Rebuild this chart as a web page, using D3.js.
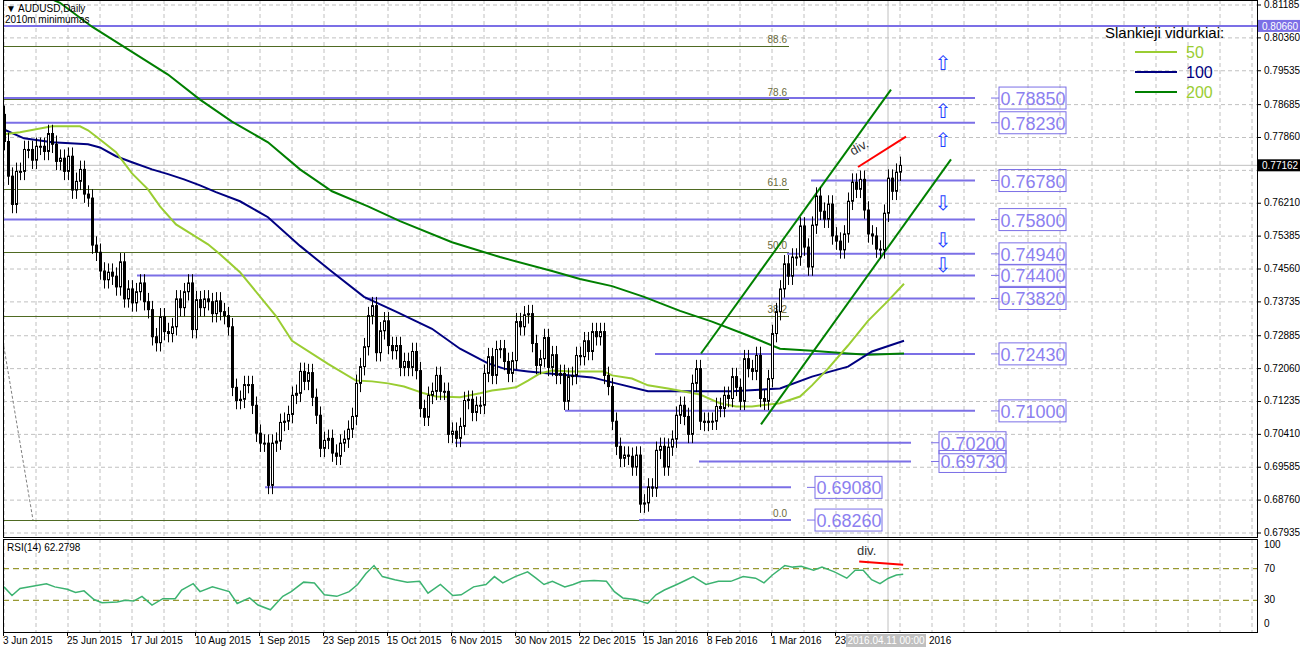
<!DOCTYPE html>
<html>
<head>
<meta charset="utf-8">
<script src="https://cdn.jsdelivr.net/npm/d3@7"></script>
<style>
  body { margin: 0; background: #fff; }
  svg { font-family: "Liberation Sans", Arial, sans-serif; }
</style>
</head>
<body>
<svg id="chart" width="1300" height="652"></svg>
<script>
// daily closes AUDUSD, 3 Jun 2015 .. 15 Apr 2016
var firstOpen = 0.7844;
var closes = [
  0.7776,0.7689,0.7618,0.7701,0.7701,0.7756,0.7756,0.7729,0.7764,0.7764,
  0.7751,0.7796,0.7769,0.7726,0.7734,0.7701,0.7739,0.7654,0.7676,0.7706,
  0.7644,0.7634,0.7516,0.7498,0.7451,0.7429,0.7448,0.7438,0.7411,0.7474,
  0.7381,0.7406,0.7371,0.7399,0.7421,0.7374,0.7354,0.7286,0.7271,0.7336,
  0.7299,0.7294,0.7311,0.7381,0.7359,0.7399,0.7421,0.7304,0.7379,0.7359,
  0.7381,0.7374,0.7344,0.7376,0.7349,0.7339,0.7311,
  0.7159,0.7126,0.7129,0.7166,0.7166,0.7114,0.7044,0.7019,0.7019,0.6913,
  0.7019,0.7024,0.7071,0.7074,0.7091,0.7139,0.7144,0.7199,0.7174,0.7196,
  0.7134,0.7089,0.7006,0.7026,0.7031,0.6994,0.6986,0.7019,0.7029,0.7054,
  0.7086,0.7169,0.7211,0.7261,0.7339,0.7364,0.7246,0.7301,0.7326,0.7264,
  0.7251,0.7264,0.7209,0.7224,0.7209,0.7249,0.7201,0.7106,0.7084,0.7139,
  0.7149,0.7189,0.7149,0.7149,0.7041,0.7049,0.7031,0.7061,0.7126,
  0.7129,0.7096,0.7114,0.7114,0.7194,0.7236,0.7189,0.7254,0.7256,0.7224,
  0.7194,0.7226,0.7324,0.7311,0.7341,0.7344,0.7269,0.7214,0.7231,0.7284,
  0.7209,0.7241,0.7189,0.7194,0.7124,0.7186,0.7189,0.7239,0.7236,0.7276,
  0.7249,0.7299,0.7286,0.7299,0.7189,0.7161,0.7074,0.7011,0.6981,0.6989,
  0.6986,0.6959,0.6989,0.6866,0.6869,0.6909,0.6906,0.7001,0.7011,0.6959,
  0.7009,0.7029,0.7089,0.7114,0.7086,0.7041,0.7169,0.7206,
  0.7074,0.7071,0.7074,0.7074,0.7111,0.7106,0.7139,0.7131,0.7186,0.7159,
  0.7124,0.7231,0.7206,0.7199,0.7239,0.7131,0.7124,0.7181,0.7294,0.7349,
  0.7406,0.7469,0.7438,0.7486,0.7486,0.7564,0.7511,0.7461,0.7566,0.7639,
  0.7601,0.7581,0.7619,0.7539,0.7526,0.7504,0.7544,0.7626,0.7674,0.7656,
  0.7681,0.7604,0.7544,0.7539,0.7506,0.7504,0.7596,0.7684,0.7651,0.7699,
  0.7716
];
var wick = 0.0022;

// moving averages, [bar index, value]
var ma50 = [[0,0.7794],[4,0.7799],[12,0.7814],[19,0.7814],[21,0.7804],[24,0.7781],[28,0.7749],[32,0.7696],
  [36,0.7656],[39,0.7613],[43,0.7568],[47,0.7543],[51,0.7518],[54,0.7493],[59,0.7448],[68,0.7338],[72,0.7276],
  [81,0.7218],[88,0.7176],[92,0.7174],[96,0.7169],[100,0.7161],[105,0.7144],[108,0.7136],[114,0.7134],
  [119,0.7144],[122,0.7151],[128,0.7159],[131,0.7176],[134,0.7194],[137,0.7201],[142,0.7199],[150,0.7199],
  [152,0.7189],[157,0.7181],[161,0.7164],[166,0.7156],[174,0.7141],[179,0.7119],[183,0.7111],[187,0.7111],
  [194,0.7119],[199,0.7136],[202,0.7164],[206,0.7206],[211,0.7264],[216,0.7326],[221,0.7376],[225,0.7419]];
var ma100 = [[0,0.7806],[5,0.7784],[12,0.7774],[21,0.7769],[24,0.7761],[28,0.7739],[32,0.7724],[37,0.7706],
  [41,0.7694],[45,0.7681],[49,0.7666],[53,0.7649],[59,0.7626],[66,0.7586],[74,0.7514],[82,0.7449],[90,0.7386],
  [98,0.7349],[107,0.7306],[114,0.7256],[121,0.7219],[125,0.7206],[131,0.7199],[139,0.7191],[147,0.7184],
  [153,0.7169],[161,0.7149],[174,0.7149],[182,0.7149],[194,0.7156],[202,0.7186],[211,0.7211],[217,0.7249],[225,0.7276]];
var ma200 = [[8,0.8150],[14,0.8124],[22,0.8064],[32,0.8001],[41,0.7944],[49,0.7881],[57,0.7826],[66,0.7774],
  [74,0.7706],[82,0.7651],[91,0.7613],[99,0.7576],[112,0.7523],[124,0.7486],[137,0.7451],[144,0.7431],
  [152,0.7413],[160,0.7386],[169,0.7351],[177,0.7324],[186,0.7289],[194,0.7256],[202,0.7251],[211,0.7244],
  [216,0.7241],[225,0.7244]];

// RSI(14)
var rsiIdx = [0,2,4,7.5,10.6,12.7,15.8,17.9,20,22.5,24.5,28.3,30.3,32.4,34.5,37,39.7,42.8,44.4,47.3,49,52.1,
  56.3,58.3,61.4,63.5,66.6,69.7,71.8,74.9,77.6,80.1,83.2,86.3,88.4,90.5,92.5,94.6,97.7,100.8,103.9,106,109.1,
  112.2,114.3,117.4,120.5,122.6,124.7,127.8,130.9,133,135,137.1,140.2,142.3,144.4,147.5,150.6,152.6,154.7,
  157.8,160.9,163,165.1,168.2,170.3,172.3,175.5,178.6,181.7,184.8,187.9,190,192.1,195.2,197.2,199.3,202.4,
  204.5,207.6,210.7,212.8,214.8,216.9,219,221.1,223.1,224.8];
var rsiVal = [47,36,45,48,51,47,44,40,42,31,27,28,30,29,35,24,32,32,43,51,41,47,41,26,33,24,18,35,41,53,52,37,
  35,41,50,64,74,60,56,53,54,39,50,36,37,47,50,60,52,60,66,58,50,54,47,50,54,55,54,41,33,31,26,37,43,50,55,60,
  50,54,54,60,58,52,62,74,72,73,68,72,66,58,68,68,56,51,58,62,63];

// support / resistance levels: [price, start bar, end bar, label column bar]
var levels = [
  [0.7885, 0, 243, 249], [0.7823, 0, 243, 249], [0.7678, 202, 243, 249], [0.7580, 0, 243, 249],
  [0.7494, 196, 243, 249], [0.7440, 33.5, 243, 249], [0.7382, 90.5, 243, 249], [0.7243, 163, 243, 249],
  [0.7100, 140.5, 243, 249], [0.7020, 113, 227, 234], [0.6973, 174, 227, 234],
  [0.6908, 65.5, 197, 203], [0.6826, 159, 197, 203]
];
var topLevel = 0.8066;
var fibLow = 0.6826, fibHigh = 0.8169;
var fibPct = [0, 38.2, 50, 61.8, 78.6, 88.6];
var arrowsUp = [0.7976, 0.7856, 0.7781];
var arrowsDown = [0.7624, 0.7531, 0.7469];
var channelUp = [[174.25, 0.7244], [221.75, 0.7906]];
var channelDown = [[189.25, 0.7066], [236.75, 0.7731]];
var divPrice = [[213.5, 0.7712], [225.5, 0.7788]];
var divRsi = [[213.8, 79], [224.8, 75]];
var lastPrice = 0.77162;
var cursorBar = 221;

var priceTicks = [0.81185,0.80360,0.79535,0.78685,0.77860,0.77035,0.76210,0.75385,0.74560,0.73735,
  0.72885,0.72060,0.71235,0.70410,0.69585,0.68760,0.67935];
// last two are what stays visible beside the cursor's date box
var dateLabels = ["3 Jun 2015","25 Jun 2015","17 Jul 2015","10 Aug 2015","1 Sep 2015","23 Sep 2015",
  "15 Oct 2015","6 Nov 2015","30 Nov 2015","22 Dec 2015","15 Jan 2016","8 Feb 2016","1 Mar 2016","23"];
var dateTail = "2016";
var rsiTicks = [100, 70, 30, 0];

var svg = d3.select("#chart");
var L = 3, R = 1257, T = 0, B = 537, RT = 539, RB = 632;
var blue = "#7b6fe6", olive = "#4f6a22";

var x = d3.scaleLinear().domain([0, 313]).range([L, L + 313 * 4]);
var y = d3.scaleLinear().domain([0.67935, 0.81185]).range([533, 5]);
var yr = d3.scaleLinear().domain([0, 100]).range([624, 545]);

var main = svg.append("g");
main.append("clipPath").attr("id", "clipMain").append("rect")
  .attr("x", L).attr("y", T).attr("width", R - L).attr("height", B - T);
main.append("clipPath").attr("id", "clipRsi").append("rect")
  .attr("x", L).attr("y", RT).attr("width", R - L).attr("height", RB - RT);

var g = main.append("g").attr("clip-path", "url(#clipMain)");
var gr = main.append("g").attr("clip-path", "url(#clipRsi)");

// grid
var vGrid = d3.range(0, 313, 8);
[g, gr].forEach(function (p, k) {
  p.selectAll(".vg").data(vGrid).enter().append("line")
    .attr("x1", function (d) { return x(d) + 1; }).attr("x2", function (d) { return x(d) + 1; })
    .attr("y1", k ? RT : T).attr("y2", k ? RB : B)
    .attr("stroke", "#c0c0c0").attr("stroke-dasharray", "4,3");
});
g.selectAll(".hg").data(priceTicks).enter().append("line")
  .attr("x1", L).attr("x2", R).attr("y1", function (d) { return y(d); }).attr("y2", function (d) { return y(d); })
  .attr("stroke", "#c0c0c0").attr("stroke-dasharray", "4,3");

// fibonacci
g.selectAll(".fib").data(fibPct).enter().append("line")
  .attr("x1", L).attr("x2", x(196.5))
  .attr("y1", function (d) { return Math.round(y(fibLow + (fibHigh - fibLow) * d / 100)) + 0.5; })
  .attr("y2", function (d) { return Math.round(y(fibLow + (fibHigh - fibLow) * d / 100)) + 0.5; })
  .attr("stroke", olive);
g.selectAll(".fibt").data(fibPct).enter().append("text")
  .attr("x", x(196)).attr("text-anchor", "end")
  .attr("y", function (d) { return y(fibLow + (fibHigh - fibLow) * d / 100) - 3; })
  .attr("font-size", 10).attr("fill", "#6b6b3a")
  .text(function (d) { return d.toFixed(1); });
g.append("line").attr("x1", x(0)).attr("y1", y(0.7274)).attr("x2", x(7.5)).attr("y2", y(0.6826))
  .attr("stroke", "#808080").attr("stroke-dasharray", "3,2");

// current price line
g.append("line").attr("x1", L).attr("x2", R).attr("y1", y(lastPrice)).attr("y2", y(lastPrice)).attr("stroke", "#c0c0c0");
// cursor
[g, gr].forEach(function (p, k) {
  p.append("line").attr("x1", x(cursorBar) + 1).attr("x2", x(cursorBar) + 1)
    .attr("y1", k ? RT : T).attr("y2", k ? RB : B).attr("stroke", "#c0c0c0");
});

// levels
g.append("line").attr("x1", L).attr("x2", R).attr("y1", y(topLevel)).attr("y2", y(topLevel))
  .attr("stroke", blue).attr("stroke-width", 2);
g.selectAll(".lvl").data(levels).enter().append("line")
  .attr("x1", function (d) { return x(d[1]); }).attr("x2", function (d) { return x(d[2]); })
  .attr("y1", function (d) { return y(d[0]); }).attr("y2", function (d) { return y(d[0]); })
  .attr("stroke", blue).attr("stroke-width", 2);
var lab = g.selectAll(".lab").data(levels).enter().append("g")
  .attr("transform", function (d) { return "translate(" + x(d[3]) + "," + y(d[0]) + ")"; });
lab.append("line").attr("x1", -8).attr("x2", 0).attr("y1", 0).attr("y2", 0).attr("stroke", blue);
lab.append("rect").attr("x", 0).attr("y", -11).attr("width", 67).attr("height", 22)
  .attr("fill", "none").attr("stroke", blue);
lab.append("text").attr("x", 34).attr("y", 7).attr("text-anchor", "middle")
  .attr("font-size", 18).attr("fill", "#8c7ff0")
  .text(function (d) { return d[0].toFixed(5); });

// arrows
g.selectAll(".au").data(arrowsUp).enter().append("text")
  .attr("x", x(235)).attr("y", function (d) { return y(d) + 8; }).attr("text-anchor", "middle")
  .attr("font-family", "DejaVu Sans").attr("font-size", 20).attr("fill", "#1e40ff").text("\u21e7");
g.selectAll(".ad").data(arrowsDown).enter().append("text")
  .attr("x", x(235)).attr("y", function (d) { return y(d) + 8; }).attr("text-anchor", "middle")
  .attr("font-family", "DejaVu Sans").attr("font-size", 20).attr("fill", "#1e40ff").text("\u21e9");

// moving averages
var line = d3.line().x(function (d) { return x(d[0]) + 1; }).y(function (d) { return y(d[1]); });
g.append("path").datum(ma200).attr("d", line).attr("fill", "none").attr("stroke", "#007f00").attr("stroke-width", 2);
g.append("path").datum(ma100).attr("d", line).attr("fill", "none").attr("stroke", "#000080").attr("stroke-width", 2);
g.append("path").datum(ma50).attr("d", line).attr("fill", "none").attr("stroke", "#9acd32").attr("stroke-width", 2);

// channel
[channelUp, channelDown].forEach(function (c) {
  g.append("path").datum(c).attr("d", line).attr("fill", "none").attr("stroke", "#008000").attr("stroke-width", 2);
});
g.append("path").datum(divPrice).attr("d", line).attr("fill", "none").attr("stroke", "#ff0000").attr("stroke-width", 2);
g.append("text").attr("transform", "translate(" + x(212.5) + "," + (y(0.7735) - 2) + ") rotate(-30)")
  .attr("font-size", 13).attr("fill", "#333").text("div.");

// candles
var candles = closes.map(function (c, i) {
  var o = i ? closes[i - 1] : firstOpen;
  return { i: i, o: o, c: c, h: Math.max(o, c) + wick, l: Math.min(o, c) - wick };
});
var cg = g.selectAll(".cd").data(candles).enter().append("g");
cg.append("line")
  .attr("x1", function (d) { return x(d.i) + 1.5; }).attr("x2", function (d) { return x(d.i) + 1.5; })
  .attr("y1", function (d) { return y(d.h); }).attr("y2", function (d) { return y(d.l); })
  .attr("stroke", "#000");
cg.append("rect")
  .attr("x", function (d) { return x(d.i) + 0.5; }).attr("width", 2)
  .attr("y", function (d) { return y(Math.max(d.o, d.c)); })
  .attr("height", function (d) { return Math.max(1, Math.abs(y(d.o) - y(d.c))); })
  .attr("fill", function (d) { return d.c >= d.o ? "#fff" : "#000"; })
  .attr("stroke", "#000");

// RSI
gr.selectAll(".rl").data([30, 70]).enter().append("line")
  .attr("x1", L).attr("x2", R).attr("y1", function (d) { return yr(d); }).attr("y2", function (d) { return yr(d); })
  .attr("stroke", "#808000").attr("stroke-dasharray", "6,4");
var rline = d3.line().x(function (d) { return x(d[0]) + 1; }).y(function (d) { return yr(d[1]); });
gr.append("path").datum(rsiIdx.map(function (d, i) { return [d, rsiVal[i]]; }))
  .attr("d", rline).attr("fill", "none").attr("stroke", "#3cb371").attr("stroke-width", 1.5);
gr.append("path").datum(divRsi).attr("d", rline).attr("fill", "none").attr("stroke", "#ff0000").attr("stroke-width", 2);
gr.append("text").attr("x", x(213.5)).attr("y", 555).attr("font-size", 13).attr("fill", "#333").text("div.");
gr.append("text").attr("x", 7).attr("y", 551).attr("font-size", 10).text("RSI(14) 62.2798");

// frames
svg.append("rect").attr("x", L + 0.5).attr("y", 0.5).attr("width", R - L).attr("height", B).attr("fill", "none").attr("stroke", "#000");
svg.append("rect").attr("x", L + 0.5).attr("y", RT + 0.5).attr("width", R - L).attr("height", RB - RT).attr("fill", "none").attr("stroke", "#000");

// price axis (labels under a price tag are hidden, as in the terminal)
var tags = [topLevel, lastPrice];
svg.selectAll(".pt").data(priceTicks).enter().append("g").each(function (d) {
  var t = d3.select(this);
  t.append("line").attr("x1", R).attr("x2", R + 4).attr("y1", y(d)).attr("y2", y(d)).attr("stroke", "#000");
  var hidden = tags.some(function (p) { return Math.abs(y(p) - y(d)) < 11; });
  if (!hidden) t.append("text").attr("x", R + 7).attr("y", y(d) + 3).attr("font-size", 10).text(d.toFixed(5));
});
function priceTag(p, bg) {
  svg.append("rect").attr("x", R + 1).attr("y", y(p) - 6).attr("width", 42).attr("height", 12).attr("fill", bg);
  svg.append("text").attr("x", R + 5).attr("y", y(p) + 4).attr("font-size", 10).attr("fill", "#fff").text(p.toFixed(5));
}
priceTag(topLevel, blue);
priceTag(lastPrice, "#000");
svg.selectAll(".rt").data(rsiTicks).enter().append("text")
  .attr("x", R + 7).attr("y", function (d) { return yr(d) + 3; }).attr("font-size", 10).text(function (d) { return d; });

// date axis
svg.selectAll(".dt").data(dateLabels).enter().append("text")
  .attr("x", function (d, i) { return x(i * 16); }).attr("y", 644)
  .attr("font-size", 10).text(function (d) { return d; });
svg.selectAll(".dtk").data(dateLabels).enter().append("line")
  .attr("x1", function (d, i) { return x(i * 16) + 0.5; }).attr("x2", function (d, i) { return x(i * 16) + 0.5; })
  .attr("y1", RB).attr("y2", RB + 4).attr("stroke", "#000");
svg.append("rect").attr("x", x(cursorBar) - 41).attr("y", 634).attr("width", 80).attr("height", 13).attr("fill", "#c0c0c0");
svg.append("text").attr("x", x(cursorBar) - 1).attr("y", 644).attr("text-anchor", "middle")
  .attr("font-size", 10).attr("fill", "#fff").text("2016.04.11 00:00");
svg.append("text").attr("x", x(cursorBar) + 42).attr("y", 644).attr("font-size", 10).text(dateTail);

// title
svg.append("text").attr("x", 6).attr("y", 12).attr("font-size", 10).text("\u25bc AUDUSD,Daily");
svg.append("text").attr("x", 5).attr("y", 23).attr("font-size", 10).text("2010m minimumas");

// legend
var leg = svg.append("g");
leg.append("text").attr("x", 1105).attr("y", 38).attr("font-size", 15).text("Slankieji vidurkiai:");
var legItems = [["50", "#9acd32"], ["100", "#000080"], ["200", "#008000"]];
legItems.forEach(function (d, i) {
  var yy = 52 + i * 20;
  leg.append("line").attr("x1", 1135).attr("x2", 1177).attr("y1", yy).attr("y2", yy).attr("stroke", d[1]).attr("stroke-width", 2);
  leg.append("text").attr("x", 1186).attr("y", yy + 6).attr("font-size", 16)
    .attr("fill", i === 1 ? "#000080" : "#9acd32").text(d[0]);
});
</script>
</body>
</html>
